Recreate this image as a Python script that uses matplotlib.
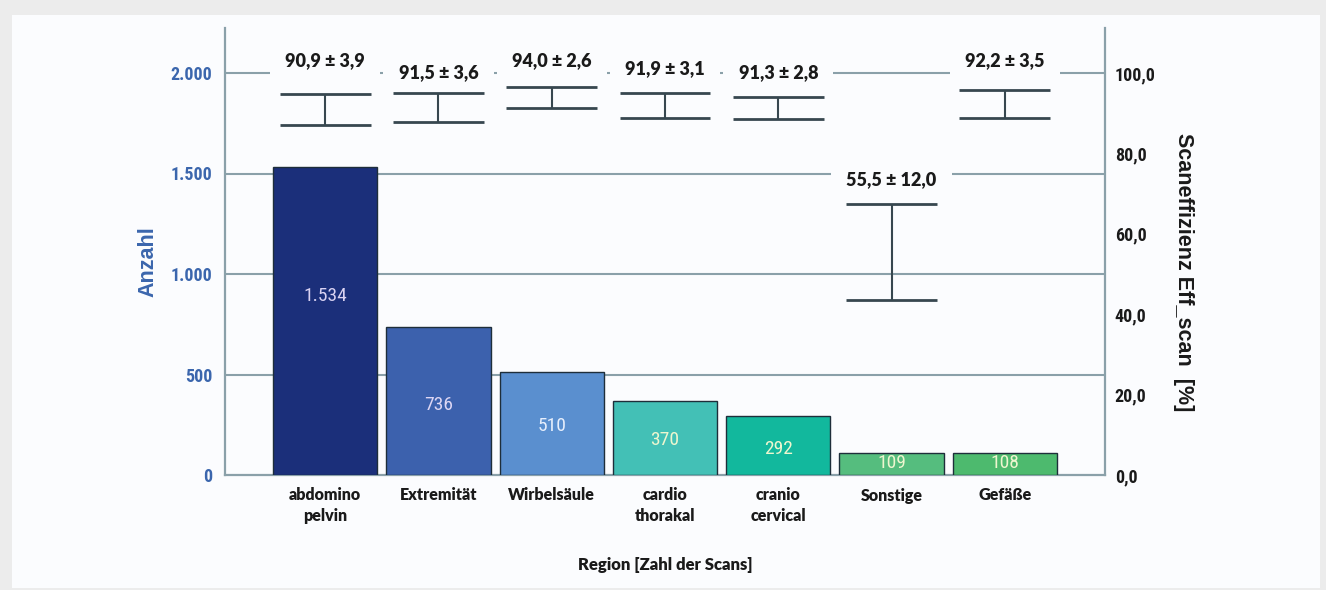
"""Scan counts per body region with mean scan efficiency on a second axis."""

import matplotlib
matplotlib.use("Agg")
import matplotlib.pyplot as plt
from matplotlib import font_manager
from matplotlib.patches import Rectangle


regions = ["abdomino\npelvin", "Extremität", "Wirbelsäule", "cardio\nthorakal",
           "cranio\ncervical", "Sonstige", "Gefäße"]
counts = [1534, 736, 510, 370, 292, 109, 108]
eff_mean = [90.9, 91.5, 94.0, 91.9, 91.3, 55.5, 92.2]
eff_sd = [3.9, 3.6, 2.6, 3.1, 2.8, 12.0, 3.5]

count_ticks = [0, 500, 1000, 1500, 2000]
eff_ticks = [0, 20, 40, 60, 80, 100]

bar_colors = ["#1b2f7a", "#3c61ad", "#5a8fcf", "#43c0b6", "#12b89d", "#55bd7e", "#4dba6e"]
value_colors = ["#d9d2f2", "#ddd6f4", "#e6eefc", "#eef6cf", "#eef6cf", "#eef6cf", "#eef6cf"]
# where the count labels sit inside the bars, as a share of bar height
value_pos = [0.58, 0.47, 0.48, 0.47, 0.45, 0.55, 0.55]
# height of each efficiency annotation, in percent units
annot_y = [103.2, 100.2, 103.2, 101.2, 100.2, 73.4, 103.2]

GRID = "#8aa0a9"
BLUE = "#3b66ad"


def pick(*names):
    have = {f.name for f in font_manager.fontManager.ttflist}
    for n in names:
        if n in have:
            return n
    return "DejaVu Sans"


NARROW = pick("Liberation Sans Narrow", "Roboto Condensed", "Liberation Sans")
LABEL = pick("Lato", "Open Sans", "DejaVu Sans")


def de_int(v):
    return f"{v:,}".replace(",", ".")


def de_dec(v):
    return f"{v:.1f}".replace(".", ",")


fig = plt.figure(figsize=(13.26, 5.90), dpi=100, facecolor="#ececec")
fig.patches.append(Rectangle((12 / 1326, 2 / 590), 1308 / 1326, 573 / 590,
                             transform=fig.transFigure, facecolor="#fbfcfe",
                             edgecolor="none", zorder=-10))

ax = fig.add_axes([225 / 1326, 1 - 475 / 590, 880 / 1326, 447 / 590])
ax.set_facecolor("none")
ymax = 2000 * 447 / 402
ax.set_ylim(0, ymax)
ax.set_xlim(-0.885, 6.885)

x = list(range(len(regions)))
for yv in count_ticks[1:]:
    ax.axhline(yv, color=GRID, lw=1.5, zorder=1)

ax.bar(x, counts, width=0.92, color=bar_colors, edgecolor="#1e2e3a", linewidth=1.0, zorder=3)
for xi, c, tc, f in zip(x, counts, value_colors, value_pos):
    ax.text(xi, c * f, de_int(c), ha="center", va="center", fontsize=14,
            family=NARROW, color=tc, zorder=4)

ax.set_xticks(x)
ax.set_xticklabels(regions, family=LABEL, fontweight="heavy", fontsize=11.5,
                   color="#1a1a1a", linespacing=1.35)
ax.set_yticks(count_ticks)
ax.set_yticklabels([de_int(v) for v in count_ticks], family=NARROW, fontweight="bold",
                   fontsize=13, color=BLUE)
ax.tick_params(axis="both", length=0, pad=9)
ax.set_xlabel("Region [Zahl der Scans]", family=LABEL, fontweight="heavy", fontsize=12,
              color="#1a1a1a", labelpad=24)
ax.set_ylabel("Anzahl", family="Liberation Sans", fontweight="bold", fontsize=15.5,
              color=BLUE, va="center")
ax.yaxis.set_label_coords(-0.0875, 0.4765)

ax.spines["top"].set_visible(False)
ax.spines["right"].set_visible(False)
for side in ("left", "bottom"):
    ax.spines[side].set_color(GRID)
    ax.spines[side].set_linewidth(1.6)

ax2 = ax.twinx()
ax2.set_ylim(0, ymax / 20)
ax2.set_yticks(eff_ticks)
ax2.set_yticklabels([de_dec(v) for v in eff_ticks], family=NARROW, fontweight="bold",
                    fontsize=13, color="#1a1a1a")
ax2.tick_params(axis="y", length=0, pad=7)
for side in ("top", "left", "bottom"):
    ax2.spines[side].set_visible(False)
ax2.spines["right"].set_color(GRID)
ax2.spines["right"].set_linewidth(1.6)
ax2.set_ylabel("Scaneffizienz Eff_scan  [%]", family="Liberation Sans", fontweight="bold",
               fontsize=15.5, color="#1a1a1a", rotation=270, va="center")
ax2.yaxis.set_label_coords(1.089, 0.454)

for xi, m, s, ly in zip(x, eff_mean, eff_sd, annot_y):
    ax2.text(xi, ly, f"{de_dec(m)} ± {de_dec(s)}", ha="center", va="center",
             family=LABEL, fontweight="heavy", fontsize=13, color="#1a1a1a", zorder=5,
             bbox=dict(boxstyle="square,pad=0.85", facecolor="#fbfcfe", edgecolor="none"))
    ax2.vlines(xi, m - s, m + s, color="#37474f", lw=1.5, zorder=6)
    ax2.hlines([m - s, m + s], xi - 0.4, xi + 0.4, color="#37474f", lw=2.0, zorder=6)

fig.savefig("out.png", dpi=100, facecolor=fig.get_facecolor())
